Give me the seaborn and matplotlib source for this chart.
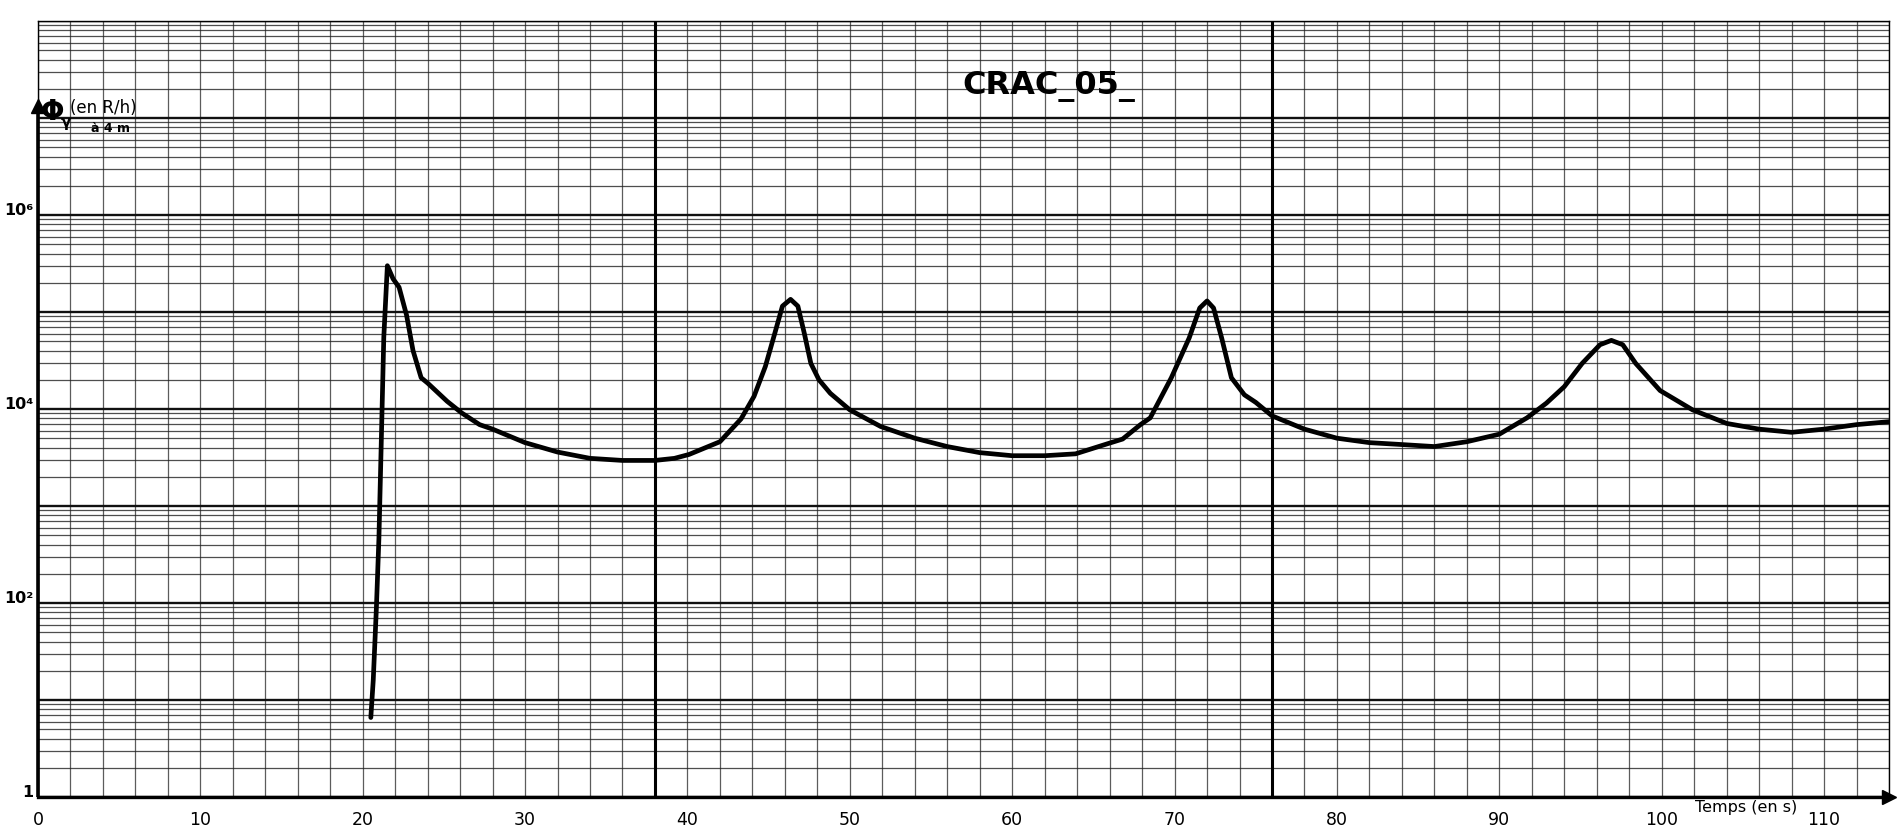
import matplotlib
matplotlib.use("Agg")
import matplotlib.pyplot as plt
import matplotlib.transforms as mtransforms
from matplotlib.ticker import FixedLocator, LogLocator, NullFormatter
import pandas as pd
import seaborn as sns

# Gamma dose-rate record (R/h at 4 m) versus time (s)
time_s = [20.5, 20.65, 20.85, 21.0, 21.15, 21.3, 21.52, 21.87, 22.24, 22.7,
          23.1, 23.6, 24.0, 25.2, 26.1, 27.2, 28.0, 30.0, 32.0, 34.0,
          36.0, 38.0, 39.2, 40.1, 42.0, 43.3, 44.1, 44.8, 45.4, 45.85,
          46.35, 46.8, 47.2, 47.6, 48.1, 48.8, 50.0, 51.9, 54.0, 56.0,
          58.0, 60.0, 62.0, 63.9, 65.9, 66.8, 67.9, 68.5, 69.8, 70.9,
          71.55, 72.0, 72.4, 72.9, 73.5, 74.3, 75.0, 76.0, 78.0, 80.0,
          82.0, 84.0, 86.0, 88.0, 90.0, 91.7, 92.9, 94.0, 95.1, 96.2,
          96.9, 97.6, 98.4, 99.9, 101.9, 104.0, 106.0, 108.0, 110.0, 112.0,
          114.0]
flux_rh = [6.6, 16, 95, 470, 5.0e3, 5.5e4, 3.0e5, 2.2e5, 1.8e5, 9.3e4,
           4.0e4, 2.1e4, 1.85e4, 1.2e4, 9.1e3, 6.9e3, 6.2e3, 4.5e3, 3.6e3, 3.1e3,
           2.95e3, 2.95e3, 3.1e3, 3.4e3, 4.6e3, 7.9e3, 1.35e4, 2.75e4, 6.2e4, 1.15e5,
           1.35e5, 1.15e5, 6.0e4, 2.95e4, 2.0e4, 1.45e4, 9.8e3, 6.6e3, 5.0e3, 4.1e3,
           3.55e3, 3.3e3, 3.3e3, 3.45e3, 4.4e3, 4.9e3, 6.9e3, 8.1e3, 2.1e4, 5.4e4,
           1.1e5, 1.3e5, 1.1e5, 5.4e4, 2.1e4, 1.4e4, 1.17e4, 8.5e3, 6.2e3, 5.0e3,
           4.5e3, 4.3e3, 4.1e3, 4.6e3, 5.5e3, 8.1e3, 1.15e4, 1.7e4, 2.95e4, 4.6e4,
           5.1e4, 4.6e4, 2.95e4, 1.55e4, 9.8e3, 7.1e3, 6.2e3, 5.75e3, 6.2e3, 6.9e3,
           7.4e3]

x_ticks = [0, 10, 20, 30, 40, 50, 60, 70, 80, 90, 100, 110]
x_tick_labels = [str(v) for v in x_ticks]
y_decades = [1e0, 1e1, 1e2, 1e3, 1e4, 1e5, 1e6, 1e7, 1e8]
y_tick_labels = ["1", "", "10²", "", "10⁴", "", "10⁶", "", ""]
sheet_joins = [38, 76]
title_text = "CRAC_05_"
x_label = "Temps (en s)"

sns.set_theme(style="white")
plt.rcParams["font.family"] = ["Liberation Sans Narrow", "DejaVu Sans"]

fig = plt.figure(figsize=(18.97, 8.33), dpi=100)
fig.patch.set_facecolor("white")
ax = fig.add_axes([0.020, 0.0432, 0.9758, 0.9316])
ax.set_facecolor("white")

df = pd.DataFrame({"t": time_s, "phi": flux_rh})
sns.lineplot(data=df, x="t", y="phi", ax=ax, color="black", lw=3.4,
             sort=False, estimator=None, zorder=5)

ax.set_yscale("log")
ax.set_xlim(0, 114)
ax.set_ylim(1, 1e8)

# log-paper grid: decades, units 2..9, and a line every 2 s
ax.xaxis.set_major_locator(FixedLocator(x_ticks))
ax.set_xticklabels(x_tick_labels)
ax.xaxis.set_minor_locator(FixedLocator(list(range(0, 115, 2))))
ax.yaxis.set_major_locator(FixedLocator(y_decades))
ax.set_yticklabels(y_tick_labels)
ax.yaxis.set_minor_locator(LogLocator(base=10, subs=range(2, 10), numticks=40))
ax.yaxis.set_minor_formatter(NullFormatter())

ax.grid(which="major", axis="y", color="#111111", lw=1.7)
ax.grid(which="minor", axis="y", color="#222222", lw=0.9, alpha=0.8)
ax.grid(which="both", axis="x", color="#333333", lw=0.9, alpha=0.8)
for xj in sheet_joins:
    ax.axvline(xj, color="black", lw=2.2, zorder=3)

ax.tick_params(axis="both", which="both", length=0)
ax.tick_params(axis="x", pad=10, labelsize=12.5, colors="black")
ax.tick_params(axis="y", pad=3, labelsize=11.5, colors="black")
for lbl in ax.get_yticklabels():
    lbl.set_fontweight("bold")
    lbl.set_transform(lbl.get_transform() +
                      mtransforms.ScaledTranslation(0, 4 / 72, fig.dpi_scale_trans))

for side in ["top", "right"]:
    ax.spines[side].set_color("black")
    ax.spines[side].set_linewidth(1.0)
ax.spines["left"].set_color("black")
ax.spines["left"].set_linewidth(1.0)
ax.spines["bottom"].set_color("black")
ax.spines["bottom"].set_linewidth(2.4)

# heavy axes with arrow heads
ax.plot([0, 0], [0, 0.885], transform=ax.transAxes, color="black", lw=2.6,
        clip_on=False, zorder=6, solid_capstyle="butt")
ax.plot([0], [0.89], marker="^", ms=10, color="black", transform=ax.transAxes,
        clip_on=False, zorder=6)
ax.plot([1.0], [0.0], marker=">", ms=10, color="black", transform=ax.transAxes,
        clip_on=False, zorder=6)

ax.set_xlabel("")
ax.set_ylabel("")

# axis titles
ax.text(0.923, -0.004, x_label, transform=ax.transAxes, ha="center", va="top",
        fontsize=11.5, color="black")
fig.text(0.0212, 0.866, "Φ", fontsize=20, fontweight="bold",
         ha="left", va="center", color="black")
fig.text(0.0318, 0.853, "γ", fontsize=11, fontweight="bold",
         ha="left", va="center", color="black")
fig.text(0.0368, 0.870, "(en R/h)", fontsize=12, ha="left", va="center",
         color="black")
fig.text(0.048, 0.846, "à 4 m", fontsize=9, fontweight="bold", ha="left",
         va="center", color="black")

fig.text(0.553, 0.896, title_text, fontsize=23, fontweight="bold",
         family=["DejaVu Sans"], ha="center", va="center", color="black")

fig.savefig("out.png", dpi=100, facecolor="white")
